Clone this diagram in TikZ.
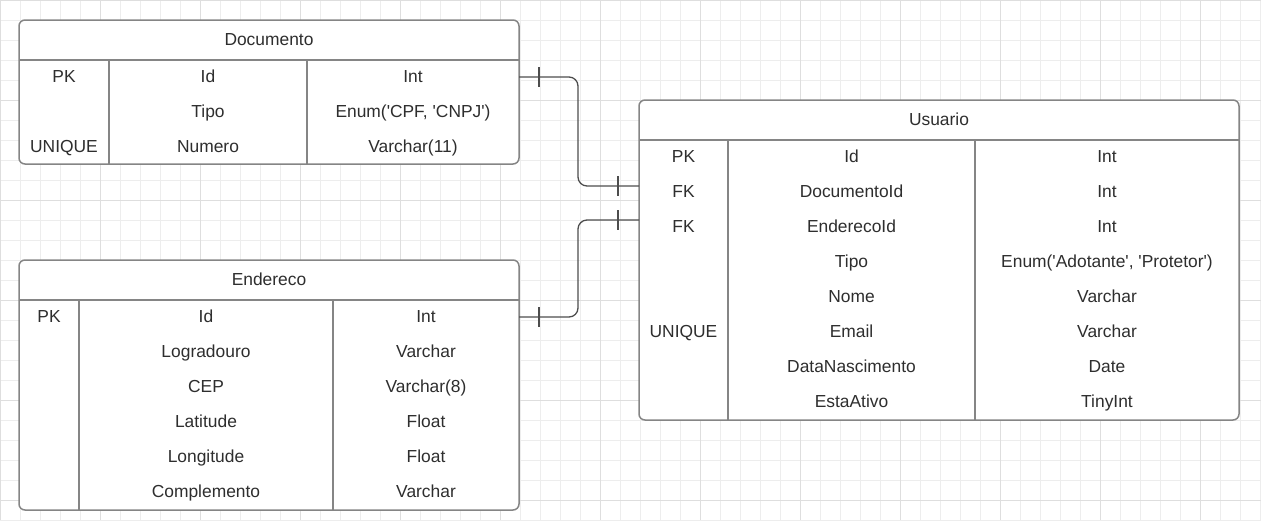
\documentclass[tikz,border=0pt]{standalone}
\usepackage{fontspec}
\setmainfont{Liberation Sans}
\definecolor{borda}{HTML}{858585}
\definecolor{texto}{HTML}{2E2E2E}
\definecolor{ligacao}{HTML}{4D4D4D}
\definecolor{grade}{HTML}{EDEDED}
\definecolor{gradeforte}{HTML}{DEDEDE}
\newcommand{\aspa}{\textquotesingle}
\begin{document}
\begin{tikzpicture}[
  x=1pt, y=-1pt,
  tabela/.style={draw=borda, line width=1.5pt, fill=white, rounded corners=6pt},
  divisor/.style={draw=borda, line width=1.5pt},
  campo/.style={text=texto, font=\fontsize{17.4}{20}\selectfont, inner sep=0pt, anchor=base},
  rel/.style={draw=ligacao, line width=1.3pt, rounded corners=9pt},
  marca/.style={draw=ligacao, line width=1.3pt}
]
  \useasboundingbox (0,0) rectangle (1261,520);

  % Grade de fundo
  \foreach \gx in {0,20,...,1260} \draw[grade, line width=1pt] (\gx,0) -- (\gx,520);
  \foreach \gy in {0,20,...,520} \draw[grade, line width=1pt] (0,\gy) -- (1261,\gy);
  \foreach \gx in {0,100,...,1200} \draw[gradeforte, line width=1pt] (\gx,0) -- (\gx,520);
  \foreach \gy in {0,100,...,500} \draw[gradeforte, line width=1pt] (0,\gy) -- (1261,\gy);

  % Tabela Documento
  \draw[tabela] (19,20) rectangle (519,164);
  \draw[divisor] (19,60) -- (519,60);
  \draw[divisor] (109,60) -- (109,164);
  \draw[divisor] (307,60) -- (307,164);
  \node[campo] (docT) at (269,45) {Documento};
  \node[campo] (docK1) at (64,82) {PK};
  \node[campo] (docN1) at (208,82) {Id};
  \node[campo] (docY1) at (413,82) {Int};
  \node[campo] (docN2) at (208,117) {Tipo};
  \node[campo] (docY2) at (413,117) {Enum(\aspa CPF, \aspa CNPJ\aspa)};
  \node[campo] (docK3) at (64,152) {UNIQUE};
  \node[campo] (docN3) at (208,152) {Numero};
  \node[campo] (docY3) at (413,152) {Varchar(11)};

  % Tabela Endereco
  \draw[tabela] (19,260) rectangle (519,510);
  \draw[divisor] (19,300) -- (519,300);
  \draw[divisor] (79,300) -- (79,510);
  \draw[divisor] (333,300) -- (333,510);
  \node[campo] (endT) at (269,285) {Endereco};
  \node[campo] (endK1) at (49,322.5) {PK};
  \node[campo] (endN1) at (206,322.5) {Id};
  \node[campo] (endY1) at (426,322.5) {Int};
  \node[campo] (endN2) at (206,357.5) {Logradouro};
  \node[campo] (endY2) at (426,357.5) {Varchar};
  \node[campo] (endN3) at (206,392.5) {CEP};
  \node[campo] (endY3) at (426,392.5) {Varchar(8)};
  \node[campo] (endN4) at (206,427.5) {Latitude};
  \node[campo] (endY4) at (426,427.5) {Float};
  \node[campo] (endN5) at (206,462.5) {Longitude};
  \node[campo] (endY5) at (426,462.5) {Float};
  \node[campo] (endN6) at (206,497.5) {Complemento};
  \node[campo] (endY6) at (426,497.5) {Varchar};

  % Tabela Usuario
  \draw[tabela] (639,100) rectangle (1239,420);
  \draw[divisor] (639,140) -- (1239,140);
  \draw[divisor] (728,140) -- (728,420);
  \draw[divisor] (975,140) -- (975,420);
  \node[campo] (usuT) at (939,125) {Usuario};
  \node[campo] (usuK1) at (683.5,162.5) {PK};
  \node[campo] (usuN1) at (851.5,162.5) {Id};
  \node[campo] (usuY1) at (1107,162.5) {Int};
  \node[campo] (usuK2) at (683.5,197.5) {FK};
  \node[campo] (usuN2) at (851.5,197.5) {DocumentoId};
  \node[campo] (usuY2) at (1107,197.5) {Int};
  \node[campo] (usuK3) at (683.5,232.5) {FK};
  \node[campo] (usuN3) at (851.5,232.5) {EnderecoId};
  \node[campo] (usuY3) at (1107,232.5) {Int};
  \node[campo] (usuN4) at (851.5,267.5) {Tipo};
  \node[campo] (usuY4) at (1107,267.5) {Enum(\aspa Adotante\aspa, \aspa Protetor\aspa)};
  \node[campo] (usuN5) at (851.5,302.5) {Nome};
  \node[campo] (usuY5) at (1107,302.5) {Varchar};
  \node[campo] (usuK6) at (683.5,337.5) {UNIQUE};
  \node[campo] (usuN6) at (851.5,337.5) {Email};
  \node[campo] (usuY6) at (1107,337.5) {Varchar};
  \node[campo] (usuN7) at (851.5,372.5) {DataNascimento};
  \node[campo] (usuY7) at (1107,372.5) {Date};
  \node[campo] (usuN8) at (851.5,407.5) {EstaAtivo};
  \node[campo] (usuY8) at (1107,407.5) {TinyInt};

  % Pontos de ligação
  \coordinate (docId) at (519,77);
  \coordinate (endId) at (519,317);
  \coordinate (usuDoc) at (639,186);
  \coordinate (usuEnd) at (639,220);
  \coordinate (meio) at (578,0);

  % Relações um-para-um
  \draw[rel] (docId) -- (docId -| meio) -- (usuDoc -| meio) -- (usuDoc);
  \draw[rel] (endId) -- (endId -| meio) -- (usuEnd -| meio) -- (usuEnd);
  \draw[marca] ([xshift=20pt,yshift=10pt]docId) -- ([xshift=20pt,yshift=-10pt]docId);
  \draw[marca] ([xshift=-21pt,yshift=10pt]usuDoc) -- ([xshift=-21pt,yshift=-10pt]usuDoc);
  \draw[marca] ([xshift=20pt,yshift=10pt]endId) -- ([xshift=20pt,yshift=-10pt]endId);
  \draw[marca] ([xshift=-21pt,yshift=10pt]usuEnd) -- ([xshift=-21pt,yshift=-10pt]usuEnd);
\end{tikzpicture}
\end{document}
